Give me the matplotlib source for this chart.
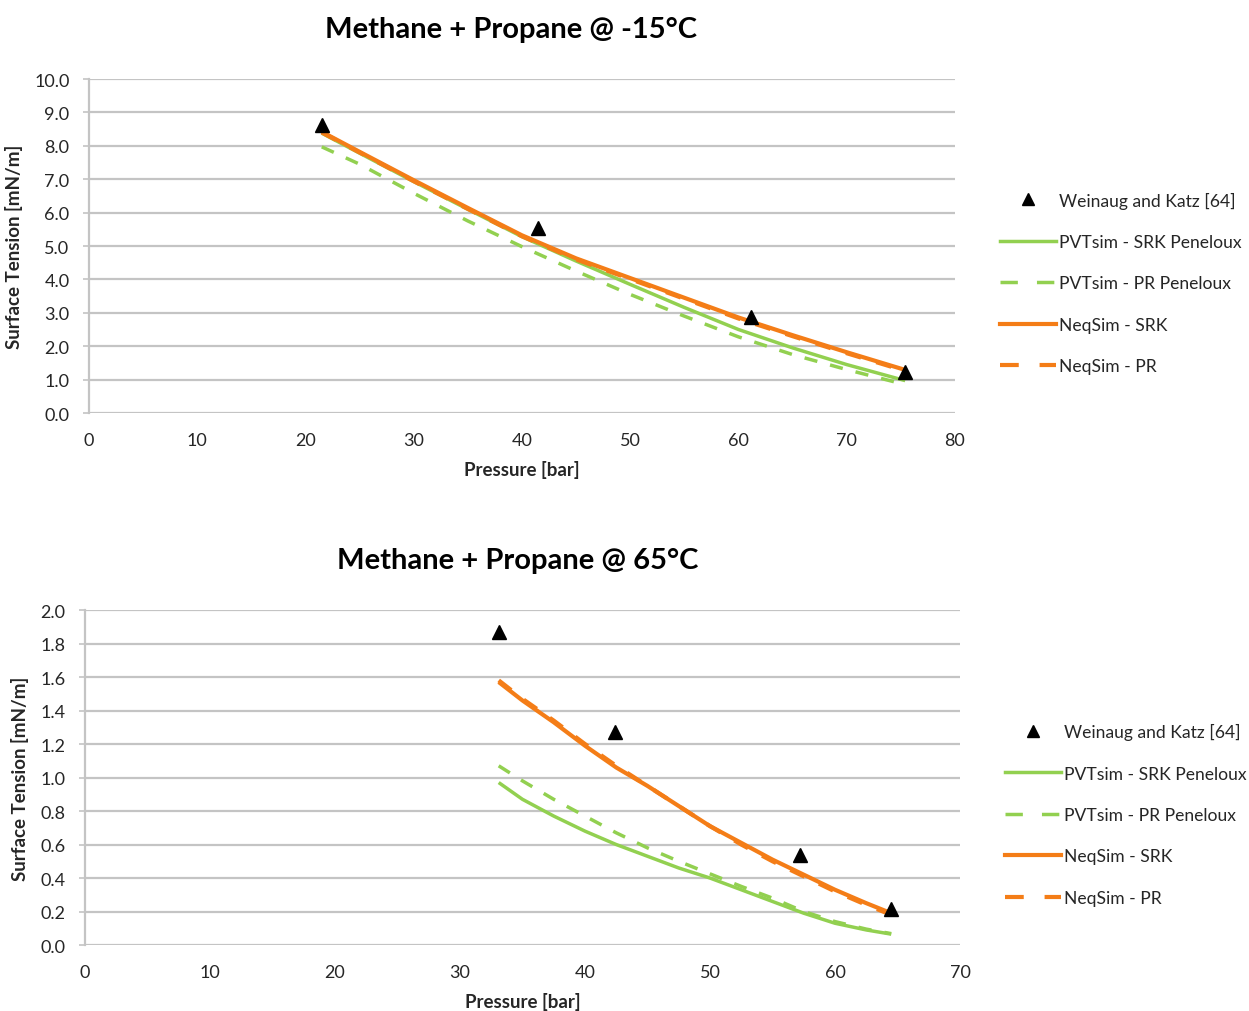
import matplotlib
matplotlib.use("Agg")
import matplotlib.pyplot as plt
from matplotlib.lines import Line2D

plt.rcParams['font.family'] = ['Lato', 'DejaVu Sans']

# ---- Methane + Propane @ -15 C ----
exp_p_cold = [21.5, 41.5, 61.2, 75.4]
exp_st_cold = [8.62, 5.55, 2.88, 1.22]

p_cold = [21.5, 25, 30, 35, 40, 45, 50, 55, 60, 65, 70, 75.4]
pvt_srk_cold = [8.38, 7.78, 6.93, 6.10, 5.28, 4.55, 3.85, 3.16, 2.50, 1.95, 1.45, 0.97]
pvt_pr_cold = [7.97, 7.45, 6.58, 5.75, 4.98, 4.25, 3.55, 2.90, 2.28, 1.75, 1.30, 0.85]
neq_srk_cold = [8.42, 7.82, 6.97, 6.14, 5.32, 4.63, 4.04, 3.45, 2.86, 2.33, 1.82, 1.29]
neq_pr_cold = [8.40, 7.80, 6.94, 6.11, 5.29, 4.60, 4.01, 3.42, 2.83, 2.30, 1.79, 1.26]

# ---- Methane + Propane @ 65 C ----
exp_p_hot = [33.1, 42.4, 57.2, 64.5]
exp_st_hot = [1.87, 1.27, 0.54, 0.215]

p_hot = [33.1, 35, 37.5, 40, 42.5, 45, 47.5, 50, 52.5, 55, 57.5, 60, 62.5, 64.5]
pvt_srk_hot = [0.97, 0.87, 0.77, 0.68, 0.60, 0.53, 0.46, 0.40, 0.33, 0.26, 0.19, 0.13, 0.09, 0.065]
pvt_pr_hot = [1.07, 0.98, 0.87, 0.77, 0.67, 0.58, 0.50, 0.425, 0.35, 0.28, 0.20, 0.14, 0.095, 0.068]
neq_srk_hot = [1.57, 1.46, 1.33, 1.19, 1.06, 0.95, 0.83, 0.71, 0.61, 0.51, 0.42, 0.33, 0.25, 0.19]
neq_pr_hot = [1.58, 1.47, 1.34, 1.20, 1.07, 0.95, 0.83, 0.71, 0.60, 0.50, 0.41, 0.32, 0.24, 0.18]

series_names = ["Weinaug and Katz [64]", "PVTsim - SRK Peneloux",
                "PVTsim - PR Peneloux", "NeqSim - SRK", "NeqSim - PR"]

GREEN = "#92d050"
ORANGE = "#f47d17"
GRID = "#c4c4c4"
TEXT = "#262626"
DASH = (3.8, 3.8)

fig = plt.figure(figsize=(12.49, 10.12), dpi=100)
ax1 = fig.add_axes([0.0713, 0.5909, 0.6933, 0.3300])
ax2 = fig.add_axes([0.0680, 0.0652, 0.7006, 0.3310])


def draw(ax, p_exp, st_exp, p, srk, pr, nsrk, npr, title, title_x,
         xmax, ymax, ystep, fmt, leg_x):
    ax.plot(p, srk, color=GREEN, lw=2.5, solid_capstyle='butt', zorder=3)
    ax.plot(p, pr, color=GREEN, lw=2.5, dashes=DASH, zorder=3)
    ax.plot(p, nsrk, color=ORANGE, lw=3.0, solid_capstyle='butt', zorder=4)
    ax.plot(p, npr, color=ORANGE, lw=3.0, dashes=DASH, zorder=4)
    ax.plot(p_exp, st_exp, ls='none', marker='^', ms=10, color='black', zorder=5)

    ax.set_xlim(0, xmax)
    ax.set_ylim(0, ymax)
    ax.set_xticks(range(0, xmax + 1, 10))
    n = int(round(ymax / ystep))
    yt = [i * ystep for i in range(n + 1)]
    ax.set_yticks(yt)
    ax.set_yticklabels([fmt.format(v) for v in yt])
    ax.grid(axis='y', color=GRID, lw=1.6)
    ax.set_axisbelow(True)
    for s in ['top', 'right', 'bottom']:
        ax.spines[s].set_visible(False)
    ax.spines['left'].set_color(GRID)
    ax.spines['left'].set_linewidth(1.6)
    ax.tick_params(axis='y', length=4, width=1.2, color=GRID, labelsize=13,
                   labelcolor=TEXT, pad=10)
    ax.tick_params(axis='x', length=0, labelsize=13, labelcolor=TEXT, pad=14)
    ax.set_xlabel("Pressure [bar]", fontsize=13.5, fontweight='bold', color=TEXT, labelpad=8)
    ax.set_ylabel("Surface Tension [mN/m]", fontsize=13.5, fontweight='bold', color=TEXT, labelpad=8)
    ax.set_title(title, fontsize=21, fontweight='bold', color='black', pad=30, x=title_x)

    handles = [
        Line2D([], [], ls='none', marker='^', ms=9, color='black'),
        Line2D([], [], color=GREEN, lw=2.5),
        Line2D([], [], color=GREEN, lw=2.5, dashes=(5, 5.5)),
        Line2D([], [], color=ORANGE, lw=3.0),
        Line2D([], [], color=ORANGE, lw=3.0, dashes=(4.5, 5)),
    ]
    bb = ax.get_position()
    yc = bb.y0 + 0.39 * bb.height
    ax.legend(handles, series_names, loc='center left',
              bbox_to_anchor=(leg_x, yc), bbox_transform=fig.transFigure,
              frameon=False, fontsize=12.6, handlelength=3.2, handletextpad=0.15,
              labelspacing=1.45, labelcolor=TEXT, borderpad=0, borderaxespad=0)


draw(ax1, exp_p_cold, exp_st_cold, p_cold, pvt_srk_cold, pvt_pr_cold,
     neq_srk_cold, neq_pr_cold, "Methane + Propane @ -15°C", 0.487,
     80, 10.0, 1.0, "{:.1f}", 0.8006)
draw(ax2, exp_p_hot, exp_st_hot, p_hot, pvt_srk_hot, pvt_pr_hot,
     neq_srk_hot, neq_pr_hot, "Methane + Propane @ 65°C", 0.494,
     70, 2.0, 0.2, "{:.1f}", 0.8046)

fig.savefig("out.png", dpi=100, facecolor='white')
